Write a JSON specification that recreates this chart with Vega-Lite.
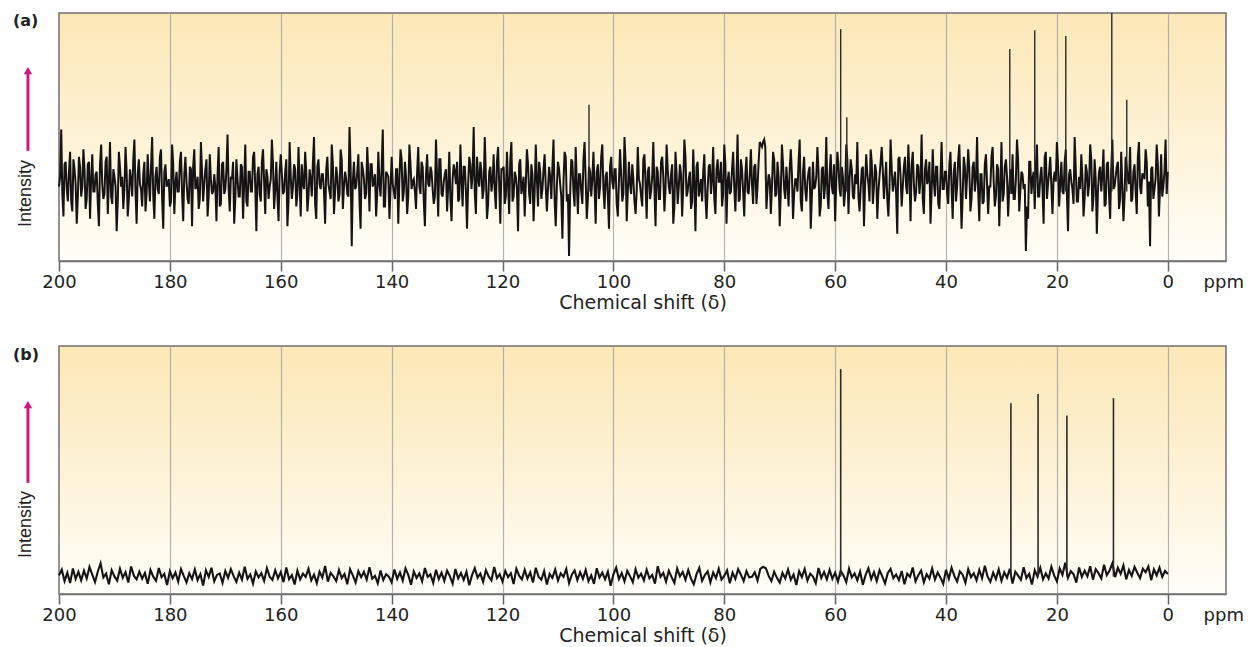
{
"$schema": "https://vega.github.io/schema/vega-lite/v6.json",
"background": "white",
"padding": {"left": 12, "top": 11, "right": 5, "bottom": 2},
"spacing": 32,
"config": {
  "view": {"stroke": "#707070", "strokeWidth": 1.5, "fill": {"gradient": "linear", "x1": 0, "y1": 0, "x2": 0, "y2": 1, "stops": [{"offset": 0, "color": "#fce8b6"}, {"offset": 0.55, "color": "#fdf3d8"}, {"offset": 1, "color": "#fffef9"}]}},
  "axisX": {"labelFont": "DejaVu Sans", "labelFontSize": 18, "labelColor": "#222", "tickColor": "#666", "tickSize": 10, "tickWidth": 1.5, "domainColor": "#707070", "domainWidth": 1.5, "gridColor": "#a0a0a0", "gridWidth": 1.2, "labelPadding": 2, "labelFlush": false, "labelOverlap": false, "titleFont": "DejaVu Sans", "titleFontSize": 19, "titleFontWeight": "normal", "titleColor": "#222", "titlePadding": 2},
  "title": {"font": "DejaVu Sans", "fontSize": 16, "fontWeight": "bold", "color": "#222"}
},
"datasets": {
"a": [
{"ppm":200,"i":30},{"ppm":199.6,"i":53},{"ppm":199.2,"i":18},{"ppm":198.8,"i":40},{"ppm":198.4,"i":24},{"ppm":198,"i":44},{"ppm":197.6,"i":20},{"ppm":197.2,"i":37},{"ppm":196.8,"i":15},{"ppm":196.4,"i":42},
{"ppm":196,"i":26},{"ppm":195.6,"i":45},{"ppm":195.2,"i":21},{"ppm":194.8,"i":39},{"ppm":194.4,"i":17},{"ppm":194,"i":43},{"ppm":193.6,"i":28},{"ppm":193.2,"i":36},{"ppm":192.8,"i":14},{"ppm":192.4,"i":47},
{"ppm":192,"i":25},{"ppm":191.6,"i":40},{"ppm":191.2,"i":19},{"ppm":190.8,"i":48},{"ppm":190.4,"i":23},{"ppm":190,"i":34},{"ppm":189.6,"i":12},{"ppm":189.2,"i":44},{"ppm":188.8,"i":30},{"ppm":188.4,"i":21},
{"ppm":188,"i":46},{"ppm":187.6,"i":18},{"ppm":187.2,"i":37},{"ppm":186.8,"i":26},{"ppm":186.4,"i":49},{"ppm":186,"i":15},{"ppm":185.6,"i":41},{"ppm":185.2,"i":29},{"ppm":184.8,"i":35},{"ppm":184.4,"i":20},
{"ppm":184,"i":43},{"ppm":183.6,"i":24},{"ppm":183.2,"i":50},{"ppm":182.8,"i":17},{"ppm":182.4,"i":38},{"ppm":182,"i":27},{"ppm":181.6,"i":45},{"ppm":181.2,"i":13},{"ppm":180.8,"i":39},{"ppm":180.4,"i":31},
{"ppm":180,"i":22},{"ppm":179.6,"i":47},{"ppm":179.2,"i":19},{"ppm":178.8,"i":36},{"ppm":178.4,"i":28},{"ppm":178,"i":44},{"ppm":177.6,"i":16},{"ppm":177.2,"i":42},{"ppm":176.8,"i":25},{"ppm":176.4,"i":38},
{"ppm":176,"i":14},{"ppm":175.6,"i":45},{"ppm":175.2,"i":30},{"ppm":174.8,"i":21},{"ppm":174.4,"i":48},{"ppm":174,"i":24},{"ppm":173.6,"i":37},{"ppm":173.2,"i":18},{"ppm":172.8,"i":43},{"ppm":172.4,"i":27},
{"ppm":172,"i":35},{"ppm":171.6,"i":16},{"ppm":171.2,"i":46},{"ppm":170.8,"i":23},{"ppm":170.4,"i":40},{"ppm":170,"i":29},{"ppm":169.6,"i":51},{"ppm":169.2,"i":20},{"ppm":168.8,"i":33},{"ppm":168.4,"i":15},
{"ppm":168,"i":41},{"ppm":167.6,"i":26},{"ppm":167.2,"i":39},{"ppm":166.8,"i":17},{"ppm":166.4,"i":47},{"ppm":166,"i":22},{"ppm":165.6,"i":36},{"ppm":165.2,"i":28},{"ppm":164.8,"i":44},{"ppm":164.4,"i":12},
{"ppm":164,"i":38},{"ppm":163.6,"i":24},{"ppm":163.2,"i":45},{"ppm":162.8,"i":19},{"ppm":162.4,"i":34},{"ppm":162,"i":30},{"ppm":161.6,"i":49},{"ppm":161.2,"i":21},{"ppm":160.8,"i":40},{"ppm":160.4,"i":16},
{"ppm":160,"i":43},{"ppm":159.6,"i":27},{"ppm":159.2,"i":36},{"ppm":158.8,"i":14},{"ppm":158.4,"i":48},{"ppm":158,"i":25},{"ppm":157.6,"i":39},{"ppm":157.2,"i":22},{"ppm":156.8,"i":46},{"ppm":156.4,"i":18},
{"ppm":156,"i":31},{"ppm":155.6,"i":44},{"ppm":155.2,"i":20},{"ppm":154.8,"i":37},{"ppm":154.4,"i":26},{"ppm":154,"i":50},{"ppm":153.6,"i":17},{"ppm":153.2,"i":41},{"ppm":152.8,"i":29},{"ppm":152.4,"i":35},
{"ppm":152,"i":15},{"ppm":151.6,"i":42},{"ppm":151.2,"i":28},{"ppm":150.8,"i":47},{"ppm":150.4,"i":19},{"ppm":150,"i":38},{"ppm":149.6,"i":24},{"ppm":149.2,"i":45},{"ppm":148.8,"i":21},{"ppm":148.4,"i":36},
{"ppm":148,"i":27},{"ppm":147.6,"i":54},{"ppm":147.2,"i":6},{"ppm":146.8,"i":40},{"ppm":146.4,"i":30},{"ppm":146,"i":43},{"ppm":145.6,"i":13},{"ppm":145.2,"i":37},{"ppm":144.8,"i":25},{"ppm":144.4,"i":46},
{"ppm":144,"i":20},{"ppm":143.6,"i":39},{"ppm":143.2,"i":32},{"ppm":142.8,"i":18},{"ppm":142.4,"i":44},{"ppm":142,"i":26},{"ppm":141.6,"i":53},{"ppm":141.2,"i":22},{"ppm":140.8,"i":35},{"ppm":140.4,"i":17},
{"ppm":140,"i":42},{"ppm":139.6,"i":28},{"ppm":139.2,"i":37},{"ppm":138.8,"i":15},{"ppm":138.4,"i":45},{"ppm":138,"i":24},{"ppm":137.6,"i":40},{"ppm":137.2,"i":19},{"ppm":136.8,"i":47},{"ppm":136.4,"i":29},
{"ppm":136,"i":33},{"ppm":135.6,"i":21},{"ppm":135.2,"i":46},{"ppm":134.8,"i":27},{"ppm":134.4,"i":38},{"ppm":134,"i":14},{"ppm":133.6,"i":43},{"ppm":133.2,"i":30},{"ppm":132.8,"i":36},{"ppm":132.4,"i":23},
{"ppm":132,"i":49},{"ppm":131.6,"i":18},{"ppm":131.2,"i":41},{"ppm":130.8,"i":26},{"ppm":130.4,"i":35},{"ppm":130,"i":20},{"ppm":129.6,"i":44},{"ppm":129.2,"i":16},{"ppm":128.8,"i":39},{"ppm":128.4,"i":31},
{"ppm":128,"i":24},{"ppm":127.6,"i":47},{"ppm":127.2,"i":22},{"ppm":126.8,"i":38},{"ppm":126.4,"i":13},{"ppm":126,"i":42},{"ppm":125.6,"i":29},{"ppm":125.2,"i":54},{"ppm":124.8,"i":19},{"ppm":124.4,"i":34},
{"ppm":124,"i":40},{"ppm":123.6,"i":25},{"ppm":123.2,"i":50},{"ppm":122.8,"i":17},{"ppm":122.4,"i":36},{"ppm":122,"i":28},{"ppm":121.6,"i":43},{"ppm":121.2,"i":21},{"ppm":120.8,"i":46},{"ppm":120.4,"i":15},
{"ppm":120,"i":37},{"ppm":119.6,"i":23},{"ppm":119.2,"i":44},{"ppm":118.8,"i":19},{"ppm":118.4,"i":48},{"ppm":118,"i":26},{"ppm":117.6,"i":34},{"ppm":117.2,"i":12},{"ppm":116.8,"i":41},{"ppm":116.4,"i":30},
{"ppm":116,"i":18},{"ppm":115.6,"i":45},{"ppm":115.2,"i":27},{"ppm":114.8,"i":39},{"ppm":114.4,"i":16},{"ppm":114,"i":47},{"ppm":113.6,"i":22},{"ppm":113.2,"i":36},{"ppm":112.8,"i":29},{"ppm":112.4,"i":43},
{"ppm":112,"i":20},{"ppm":111.6,"i":38},{"ppm":111.2,"i":25},{"ppm":110.8,"i":49},{"ppm":110.4,"i":14},{"ppm":110,"i":40},{"ppm":109.6,"i":31},{"ppm":109.2,"i":9},{"ppm":108.8,"i":44},{"ppm":108.4,"i":24},
{"ppm":108,"i":2},{"ppm":107.6,"i":41},{"ppm":107.2,"i":28},{"ppm":106.8,"i":46},{"ppm":106.4,"i":19},{"ppm":106,"i":35},{"ppm":105.6,"i":23},{"ppm":105.2,"i":48},{"ppm":104.8,"i":17},{"ppm":104.4,"i":38},
{"ppm":104,"i":26},{"ppm":103.6,"i":44},{"ppm":103.2,"i":15},{"ppm":102.8,"i":39},{"ppm":102.4,"i":30},{"ppm":102,"i":47},{"ppm":101.6,"i":21},{"ppm":101.2,"i":36},{"ppm":100.8,"i":13},{"ppm":100.4,"i":42},
{"ppm":100,"i":29},{"ppm":99.6,"i":37},{"ppm":99.2,"i":18},{"ppm":98.8,"i":45},{"ppm":98.4,"i":24},{"ppm":98,"i":50},{"ppm":97.6,"i":16},{"ppm":97.2,"i":40},{"ppm":96.8,"i":27},{"ppm":96.4,"i":33},
{"ppm":96,"i":19},{"ppm":95.6,"i":46},{"ppm":95.2,"i":31},{"ppm":94.8,"i":22},{"ppm":94.4,"i":43},{"ppm":94,"i":17},{"ppm":93.6,"i":38},{"ppm":93.2,"i":28},{"ppm":92.8,"i":48},{"ppm":92.4,"i":14},
{"ppm":92,"i":36},{"ppm":91.6,"i":25},{"ppm":91.2,"i":42},{"ppm":90.8,"i":20},{"ppm":90.4,"i":47},{"ppm":90,"i":30},{"ppm":89.6,"i":35},{"ppm":89.2,"i":15},{"ppm":88.8,"i":44},{"ppm":88.4,"i":23},
{"ppm":88,"i":39},{"ppm":87.6,"i":18},{"ppm":87.2,"i":49},{"ppm":86.8,"i":26},{"ppm":86.4,"i":33},{"ppm":86,"i":21},{"ppm":85.6,"i":45},{"ppm":85.2,"i":12},{"ppm":84.8,"i":40},{"ppm":84.4,"i":29},
{"ppm":84,"i":24},{"ppm":83.6,"i":43},{"ppm":83.2,"i":17},{"ppm":82.8,"i":38},{"ppm":82.4,"i":27},{"ppm":82,"i":46},{"ppm":81.6,"i":19},{"ppm":81.2,"i":41},{"ppm":80.8,"i":32},{"ppm":80.4,"i":22},
{"ppm":80,"i":47},{"ppm":79.6,"i":15},{"ppm":79.2,"i":36},{"ppm":78.8,"i":28},{"ppm":78.4,"i":44},{"ppm":78,"i":20},{"ppm":77.6,"i":51},{"ppm":77.2,"i":25},{"ppm":76.8,"i":37},{"ppm":76.4,"i":18},
{"ppm":76,"i":42},{"ppm":75.6,"i":27},{"ppm":75.2,"i":45},{"ppm":74.8,"i":23},{"ppm":74.4,"i":39},{"ppm":74,"i":30},{"ppm":73.6,"i":48},{"ppm":73.2,"i":46},{"ppm":72.8,"i":49},{"ppm":72.4,"i":21},
{"ppm":72,"i":35},{"ppm":71.6,"i":19},{"ppm":71.2,"i":44},{"ppm":70.8,"i":26},{"ppm":70.4,"i":40},{"ppm":70,"i":14},{"ppm":69.6,"i":47},{"ppm":69.2,"i":29},{"ppm":68.8,"i":38},{"ppm":68.4,"i":22},
{"ppm":68,"i":45},{"ppm":67.6,"i":17},{"ppm":67.2,"i":33},{"ppm":66.8,"i":28},{"ppm":66.4,"i":49},{"ppm":66,"i":20},{"ppm":65.6,"i":42},{"ppm":65.2,"i":24},{"ppm":64.8,"i":36},{"ppm":64.4,"i":13},
{"ppm":64,"i":40},{"ppm":63.6,"i":30},{"ppm":63.2,"i":46},{"ppm":62.8,"i":18},{"ppm":62.4,"i":37},{"ppm":62,"i":25},{"ppm":61.6,"i":50},{"ppm":61.2,"i":21},{"ppm":60.8,"i":43},{"ppm":60.4,"i":27},
{"ppm":60,"i":16},{"ppm":59.6,"i":44},{"ppm":59.2,"i":29},{"ppm":58.8,"i":38},{"ppm":58.4,"i":22},{"ppm":58,"i":47},{"ppm":57.6,"i":19},{"ppm":57.2,"i":41},{"ppm":56.8,"i":26},{"ppm":56.4,"i":35},
{"ppm":56,"i":48},{"ppm":55.6,"i":20},{"ppm":55.2,"i":37},{"ppm":54.8,"i":14},{"ppm":54.4,"i":43},{"ppm":54,"i":31},{"ppm":53.6,"i":45},{"ppm":53.2,"i":23},{"ppm":52.8,"i":39},{"ppm":52.4,"i":17},
{"ppm":52,"i":34},{"ppm":51.6,"i":46},{"ppm":51.2,"i":25},{"ppm":50.8,"i":40},{"ppm":50.4,"i":18},{"ppm":50,"i":49},{"ppm":49.6,"i":28},{"ppm":49.2,"i":36},{"ppm":48.8,"i":11},{"ppm":48.4,"i":42},
{"ppm":48,"i":22},{"ppm":47.6,"i":38},{"ppm":47.2,"i":30},{"ppm":46.8,"i":47},{"ppm":46.4,"i":16},{"ppm":46,"i":44},{"ppm":45.6,"i":24},{"ppm":45.2,"i":39},{"ppm":44.8,"i":27},{"ppm":44.4,"i":51},
{"ppm":44,"i":19},{"ppm":43.6,"i":41},{"ppm":43.2,"i":33},{"ppm":42.8,"i":15},{"ppm":42.4,"i":45},{"ppm":42,"i":26},{"ppm":41.6,"i":38},{"ppm":41.2,"i":21},{"ppm":40.8,"i":48},{"ppm":40.4,"i":29},
{"ppm":40,"i":36},{"ppm":39.6,"i":23},{"ppm":39.2,"i":44},{"ppm":38.8,"i":17},{"ppm":38.4,"i":40},{"ppm":38,"i":30},{"ppm":37.6,"i":47},{"ppm":37.2,"i":13},{"ppm":36.8,"i":42},{"ppm":36.4,"i":25},
{"ppm":36,"i":45},{"ppm":35.6,"i":20},{"ppm":35.2,"i":38},{"ppm":34.8,"i":28},{"ppm":34.4,"i":50},{"ppm":34,"i":16},{"ppm":33.6,"i":35},{"ppm":33.2,"i":24},{"ppm":32.8,"i":43},{"ppm":32.4,"i":19},
{"ppm":32,"i":30},{"ppm":31.6,"i":46},{"ppm":31.2,"i":22},{"ppm":30.8,"i":39},{"ppm":30.4,"i":14},{"ppm":30,"i":48},{"ppm":29.6,"i":27},{"ppm":29.2,"i":41},{"ppm":28.8,"i":18},{"ppm":28.4,"i":37},
{"ppm":28,"i":43},{"ppm":27.6,"i":25},{"ppm":27.2,"i":49},{"ppm":26.8,"i":20},{"ppm":26.4,"i":36},{"ppm":26,"i":29},{"ppm":25.6,"i":4},{"ppm":25.2,"i":17},{"ppm":24.8,"i":40},{"ppm":24.4,"i":33},
{"ppm":24,"i":21},{"ppm":23.6,"i":47},{"ppm":23.2,"i":26},{"ppm":22.8,"i":38},{"ppm":22.4,"i":15},{"ppm":22,"i":44},{"ppm":21.6,"i":31},{"ppm":21.2,"i":42},{"ppm":20.8,"i":19},{"ppm":20.4,"i":36},
{"ppm":20,"i":48},{"ppm":19.6,"i":22},{"ppm":19.2,"i":40},{"ppm":18.8,"i":27},{"ppm":18.4,"i":45},{"ppm":18,"i":12},{"ppm":17.6,"i":37},{"ppm":17.2,"i":29},{"ppm":16.8,"i":50},{"ppm":16.4,"i":24},
{"ppm":16,"i":34},{"ppm":15.6,"i":43},{"ppm":15.2,"i":18},{"ppm":14.8,"i":39},{"ppm":14.4,"i":26},{"ppm":14,"i":47},{"ppm":13.6,"i":20},{"ppm":13.2,"i":41},{"ppm":12.8,"i":11},{"ppm":12.4,"i":36},
{"ppm":12,"i":28},{"ppm":11.6,"i":45},{"ppm":11.2,"i":23},{"ppm":10.8,"i":40},{"ppm":10.4,"i":17},{"ppm":10,"i":49},{"ppm":9.6,"i":30},{"ppm":9.2,"i":38},{"ppm":8.8,"i":21},{"ppm":8.4,"i":44},
{"ppm":8,"i":16},{"ppm":7.6,"i":42},{"ppm":7.2,"i":33},{"ppm":6.8,"i":46},{"ppm":6.4,"i":25},{"ppm":6,"i":39},{"ppm":5.6,"i":19},{"ppm":5.2,"i":48},{"ppm":4.8,"i":27},{"ppm":4.4,"i":35},
{"ppm":4,"i":45},{"ppm":3.6,"i":22},{"ppm":3.2,"i":6},{"ppm":2.8,"i":38},{"ppm":2.4,"i":29},{"ppm":2,"i":47},{"ppm":1.6,"i":18},{"ppm":1.2,"i":43},{"ppm":0.8,"i":30},{"ppm":0.4,"i":49},
{"ppm":0,"i":36},
{"ppm":199.8,"i":34},{"ppm":199.4,"i":27},{"ppm":199,"i":39},{"ppm":198.6,"i":29},{"ppm":198.2,"i":36},{"ppm":197.8,"i":24},{"ppm":197.4,"i":41},{"ppm":197,"i":31},{"ppm":196.6,"i":26},{"ppm":196.2,"i":38},
{"ppm":195.8,"i":30},{"ppm":195.4,"i":37},{"ppm":195,"i":25},{"ppm":194.6,"i":40},{"ppm":194.2,"i":33},{"ppm":193.8,"i":28},{"ppm":193.4,"i":35},{"ppm":193,"i":23},{"ppm":192.6,"i":39},{"ppm":192.2,"i":31},
{"ppm":191.8,"i":27},{"ppm":191.4,"i":42},{"ppm":191,"i":32},{"ppm":190.6,"i":26},{"ppm":190.2,"i":37},{"ppm":189.8,"i":30},{"ppm":189.4,"i":24},{"ppm":189,"i":38},{"ppm":188.6,"i":34},{"ppm":188.2,"i":29},
{"ppm":187.8,"i":36},{"ppm":187.4,"i":25},{"ppm":187,"i":33},{"ppm":186.6,"i":41},{"ppm":186.2,"i":28},{"ppm":185.8,"i":35},{"ppm":185.4,"i":31},{"ppm":185,"i":22},{"ppm":184.6,"i":40},{"ppm":184.2,"i":27},
{"ppm":183.8,"i":32},{"ppm":183.4,"i":38},{"ppm":183,"i":26},{"ppm":182.6,"i":34},{"ppm":182.2,"i":29},{"ppm":181.8,"i":42},{"ppm":181.4,"i":25},{"ppm":181,"i":36},{"ppm":180.6,"i":30},{"ppm":180.2,"i":33},
{"ppm":179.8,"i":24},{"ppm":179.4,"i":39},{"ppm":179,"i":31},{"ppm":178.6,"i":28},{"ppm":178.2,"i":40},{"ppm":177.8,"i":27},{"ppm":177.4,"i":35},{"ppm":177,"i":32},{"ppm":176.6,"i":23},{"ppm":176.2,"i":37},
{"ppm":175.8,"i":38},{"ppm":175.4,"i":29},{"ppm":175,"i":34},{"ppm":174.6,"i":25},{"ppm":174.2,"i":36},{"ppm":173.8,"i":31},{"ppm":173.4,"i":41},{"ppm":173,"i":26},{"ppm":172.6,"i":33},{"ppm":172.2,"i":28},
{"ppm":171.8,"i":30},{"ppm":171.4,"i":35},{"ppm":171,"i":22},{"ppm":170.6,"i":39},{"ppm":170.2,"i":27},{"ppm":169.8,"i":37},{"ppm":169.4,"i":29},{"ppm":169,"i":34},{"ppm":168.6,"i":40},{"ppm":168.2,"i":25},
{"ppm":167.8,"i":33},{"ppm":167.4,"i":26},{"ppm":167,"i":38},{"ppm":166.6,"i":31},{"ppm":166.2,"i":24},{"ppm":165.8,"i":36},{"ppm":165.4,"i":28},{"ppm":165,"i":42},{"ppm":164.6,"i":30},{"ppm":164.2,"i":35},
{"ppm":163.8,"i":27},{"ppm":163.4,"i":40},{"ppm":163,"i":32},{"ppm":162.6,"i":37},{"ppm":162.2,"i":25},{"ppm":161.8,"i":33},{"ppm":161.4,"i":39},{"ppm":161,"i":29},{"ppm":160.6,"i":26},{"ppm":160.2,"i":36},
{"ppm":159.8,"i":35},{"ppm":159.4,"i":28},{"ppm":159,"i":41},{"ppm":158.6,"i":24},{"ppm":158.2,"i":34},{"ppm":157.8,"i":30},{"ppm":157.4,"i":37},{"ppm":157,"i":27},{"ppm":156.6,"i":32},{"ppm":156.2,"i":39},
{"ppm":155.8,"i":29},{"ppm":155.4,"i":36},{"ppm":155,"i":26},{"ppm":154.6,"i":33},{"ppm":154.2,"i":40},{"ppm":153.8,"i":23},{"ppm":153.4,"i":38},{"ppm":153,"i":31},{"ppm":152.6,"i":35},{"ppm":152.2,"i":28},
{"ppm":151.8,"i":37},{"ppm":151.4,"i":31},{"ppm":151,"i":25},{"ppm":150.6,"i":39},{"ppm":150.2,"i":28},{"ppm":149.8,"i":34},{"ppm":149.4,"i":27},{"ppm":149,"i":41},{"ppm":148.6,"i":30},{"ppm":148.2,"i":33},
{"ppm":147.8,"i":26},{"ppm":147.4,"i":38},{"ppm":147,"i":32},{"ppm":146.6,"i":29},{"ppm":146.2,"i":36},{"ppm":145.8,"i":24},{"ppm":145.4,"i":40},{"ppm":145,"i":33},{"ppm":144.6,"i":27},{"ppm":144.2,"i":35},
{"ppm":143.8,"i":39},{"ppm":143.4,"i":30},{"ppm":143,"i":35},{"ppm":142.6,"i":27},{"ppm":142.2,"i":31},{"ppm":141.8,"i":38},{"ppm":141.4,"i":22},{"ppm":141,"i":36},{"ppm":140.6,"i":34},{"ppm":140.2,"i":29},
{"ppm":139.8,"i":31},{"ppm":139.4,"i":25},{"ppm":139,"i":37},{"ppm":138.6,"i":33},{"ppm":138.2,"i":41},{"ppm":137.8,"i":28},{"ppm":137.4,"i":34},{"ppm":137,"i":26},{"ppm":136.6,"i":39},{"ppm":136.2,"i":32},
{"ppm":135.8,"i":28},{"ppm":135.4,"i":36},{"ppm":135,"i":30},{"ppm":134.6,"i":40},{"ppm":134.2,"i":24},{"ppm":133.8,"i":35},{"ppm":133.4,"i":31},{"ppm":133,"i":38},{"ppm":132.6,"i":29},{"ppm":132.2,"i":26},
{"ppm":131.8,"i":34},{"ppm":131.4,"i":41},{"ppm":131,"i":27},{"ppm":130.6,"i":32},{"ppm":130.2,"i":37},{"ppm":129.8,"i":30},{"ppm":129.4,"i":25},{"ppm":129,"i":33},{"ppm":128.6,"i":36},{"ppm":128.2,"i":40},
{"ppm":127.8,"i":25},{"ppm":127.4,"i":33},{"ppm":127,"i":38},{"ppm":126.6,"i":28},{"ppm":126.2,"i":31},{"ppm":125.8,"i":39},{"ppm":125.4,"i":35},{"ppm":125,"i":27},{"ppm":124.6,"i":42},{"ppm":124.2,"i":30},
{"ppm":123.8,"i":36},{"ppm":123.4,"i":29},{"ppm":123,"i":34},{"ppm":122.6,"i":23},{"ppm":122.2,"i":38},{"ppm":121.8,"i":32},{"ppm":121.4,"i":28},{"ppm":121,"i":40},{"ppm":120.6,"i":31},{"ppm":120.2,"i":37},
{"ppm":119.8,"i":38},{"ppm":119.4,"i":26},{"ppm":119,"i":31},{"ppm":118.6,"i":41},{"ppm":118.2,"i":24},{"ppm":117.8,"i":36},{"ppm":117.4,"i":29},{"ppm":117,"i":39},{"ppm":116.6,"i":27},{"ppm":116.2,"i":34},
{"ppm":115.8,"i":31},{"ppm":115.4,"i":39},{"ppm":115,"i":23},{"ppm":114.6,"i":35},{"ppm":114.2,"i":28},{"ppm":113.8,"i":33},{"ppm":113.4,"i":40},{"ppm":113,"i":25},{"ppm":112.6,"i":37},{"ppm":112.2,"i":30},
{"ppm":111.8,"i":29},{"ppm":111.4,"i":34},{"ppm":111,"i":38},{"ppm":110.6,"i":24},{"ppm":110.2,"i":30},{"ppm":109.8,"i":37},{"ppm":109.4,"i":26},{"ppm":109,"i":32},{"ppm":108.6,"i":42},{"ppm":108.2,"i":27},
{"ppm":107.8,"i":27},{"ppm":107.4,"i":40},{"ppm":107,"i":22},{"ppm":106.6,"i":31},{"ppm":106.2,"i":35},{"ppm":105.8,"i":28},{"ppm":105.4,"i":41},{"ppm":105,"i":33},{"ppm":104.6,"i":25},{"ppm":104.2,"i":36},
{"ppm":103.8,"i":33},{"ppm":103.4,"i":30},{"ppm":103,"i":36},{"ppm":102.6,"i":25},{"ppm":102.2,"i":42},{"ppm":101.8,"i":29},{"ppm":101.4,"i":34},{"ppm":101,"i":26},{"ppm":100.6,"i":38},{"ppm":100.2,"i":32},
{"ppm":99.8,"i":37},{"ppm":99.4,"i":23},{"ppm":99,"i":32},{"ppm":98.6,"i":35},{"ppm":98.2,"i":27},{"ppm":97.8,"i":40},{"ppm":97.4,"i":28},{"ppm":97,"i":31},{"ppm":96.6,"i":39},{"ppm":96.2,"i":24},
{"ppm":95.8,"i":28},{"ppm":95.4,"i":33},{"ppm":95,"i":26},{"ppm":94.6,"i":41},{"ppm":94.2,"i":31},{"ppm":93.8,"i":36},{"ppm":93.4,"i":25},{"ppm":93,"i":34},{"ppm":92.6,"i":29},{"ppm":92.2,"i":38},
{"ppm":91.8,"i":25},{"ppm":91.4,"i":40},{"ppm":91,"i":34},{"ppm":90.6,"i":29},{"ppm":90.2,"i":37},{"ppm":89.8,"i":27},{"ppm":89.4,"i":39},{"ppm":89,"i":22},{"ppm":88.6,"i":35},{"ppm":88.2,"i":30},
{"ppm":87.8,"i":35},{"ppm":87.4,"i":30},{"ppm":87,"i":42},{"ppm":86.6,"i":28},{"ppm":86.2,"i":36},{"ppm":85.8,"i":24},{"ppm":85.4,"i":31},{"ppm":85,"i":38},{"ppm":84.6,"i":26},{"ppm":84.2,"i":33},
{"ppm":83.8,"i":36},{"ppm":83.4,"i":26},{"ppm":83,"i":29},{"ppm":82.6,"i":39},{"ppm":82.2,"i":33},{"ppm":81.8,"i":25},{"ppm":81.4,"i":37},{"ppm":81,"i":32},{"ppm":80.6,"i":40},{"ppm":80.2,"i":27},
{"ppm":79.8,"i":39},{"ppm":79.4,"i":32},{"ppm":79,"i":27},{"ppm":78.6,"i":37},{"ppm":78.2,"i":30},{"ppm":77.8,"i":34},{"ppm":77.4,"i":24},{"ppm":77,"i":41},{"ppm":76.6,"i":28},{"ppm":76.2,"i":35},
{"ppm":75.8,"i":28},{"ppm":75.4,"i":35},{"ppm":75,"i":31},{"ppm":74.6,"i":38},{"ppm":74.2,"i":23},{"ppm":73.8,"i":40},{"ppm":73.4,"i":47},{"ppm":73,"i":48},{"ppm":72.6,"i":46},{"ppm":72.2,"i":29},
{"ppm":71.8,"i":33},{"ppm":71.4,"i":30},{"ppm":71,"i":41},{"ppm":70.6,"i":27},{"ppm":70.2,"i":34},{"ppm":69.8,"i":28},{"ppm":69.4,"i":39},{"ppm":69,"i":25},{"ppm":68.6,"i":31},{"ppm":68.2,"i":37},
{"ppm":67.8,"i":35},{"ppm":67.4,"i":27},{"ppm":67,"i":33},{"ppm":66.6,"i":40},{"ppm":66.2,"i":24},{"ppm":65.8,"i":36},{"ppm":65.4,"i":29},{"ppm":65,"i":32},{"ppm":64.6,"i":38},{"ppm":64.2,"i":26},
{"ppm":63.8,"i":29},{"ppm":63.4,"i":34},{"ppm":63,"i":36},{"ppm":62.6,"i":22},{"ppm":62.2,"i":38},{"ppm":61.8,"i":31},{"ppm":61.4,"i":27},{"ppm":61,"i":35},{"ppm":60.6,"i":30},{"ppm":60.2,"i":39},
{"ppm":59.8,"i":32},{"ppm":59.4,"i":39},{"ppm":59,"i":26},{"ppm":58.6,"i":34},{"ppm":58.2,"i":28},{"ppm":57.8,"i":41},{"ppm":57.4,"i":33},{"ppm":57,"i":37},{"ppm":56.6,"i":25},{"ppm":56.2,"i":31},
{"ppm":55.8,"i":26},{"ppm":55.4,"i":29},{"ppm":55,"i":38},{"ppm":54.6,"i":31},{"ppm":54.2,"i":35},{"ppm":53.8,"i":24},{"ppm":53.4,"i":40},{"ppm":53,"i":30},{"ppm":52.6,"i":36},{"ppm":52.2,"i":28},
{"ppm":51.8,"i":40},{"ppm":51.4,"i":36},{"ppm":51,"i":33},{"ppm":50.6,"i":25},{"ppm":50.2,"i":30},{"ppm":49.8,"i":37},{"ppm":49.4,"i":32},{"ppm":49,"i":27},{"ppm":48.6,"i":41},{"ppm":48.2,"i":34},
{"ppm":47.8,"i":30},{"ppm":47.4,"i":42},{"ppm":47,"i":27},{"ppm":46.6,"i":35},{"ppm":46.2,"i":39},{"ppm":45.8,"i":31},{"ppm":45.4,"i":28},{"ppm":45,"i":38},{"ppm":44.6,"i":33},{"ppm":44.2,"i":25},
{"ppm":43.8,"i":37},{"ppm":43.4,"i":31},{"ppm":43,"i":40},{"ppm":42.6,"i":28},{"ppm":42.2,"i":32},{"ppm":41.8,"i":38},{"ppm":41.4,"i":23},{"ppm":41,"i":34},{"ppm":40.6,"i":29},{"ppm":40.2,"i":36},
{"ppm":39.8,"i":27},{"ppm":39.4,"i":39},{"ppm":39,"i":29},{"ppm":38.6,"i":36},{"ppm":38.2,"i":24},{"ppm":37.8,"i":41},{"ppm":37.4,"i":31},{"ppm":37,"i":26},{"ppm":36.6,"i":38},{"ppm":36.2,"i":34},
{"ppm":35.8,"i":37},{"ppm":35.4,"i":25},{"ppm":35,"i":40},{"ppm":34.6,"i":33},{"ppm":34.2,"i":28},{"ppm":33.8,"i":35},{"ppm":33.4,"i":23},{"ppm":33,"i":39},{"ppm":32.6,"i":31},{"ppm":32.2,"i":30},
{"ppm":31.8,"i":42},{"ppm":31.4,"i":32},{"ppm":31,"i":26},{"ppm":30.6,"i":37},{"ppm":30.2,"i":30},{"ppm":29.8,"i":24},{"ppm":29.4,"i":38},{"ppm":29,"i":34},{"ppm":28.6,"i":29},{"ppm":28.2,"i":27},
{"ppm":27.8,"i":25},{"ppm":27.4,"i":33},{"ppm":27,"i":41},{"ppm":26.6,"i":28},{"ppm":26.2,"i":35},{"ppm":25.8,"i":31},{"ppm":25.4,"i":22},{"ppm":25,"i":40},{"ppm":24.6,"i":27},{"ppm":24.2,"i":36},
{"ppm":23.8,"i":38},{"ppm":23.4,"i":26},{"ppm":23,"i":34},{"ppm":22.6,"i":29},{"ppm":22.2,"i":42},{"ppm":21.8,"i":25},{"ppm":21.4,"i":36},{"ppm":21,"i":30},{"ppm":20.6,"i":33},{"ppm":20.2,"i":32},
{"ppm":19.8,"i":39},{"ppm":19.4,"i":31},{"ppm":19,"i":28},{"ppm":18.6,"i":40},{"ppm":18.2,"i":27},{"ppm":17.8,"i":35},{"ppm":17.4,"i":32},{"ppm":17,"i":23},{"ppm":16.6,"i":37},{"ppm":16.2,"i":24},
{"ppm":15.8,"i":29},{"ppm":15.4,"i":34},{"ppm":15,"i":25},{"ppm":14.6,"i":36},{"ppm":14.2,"i":31},{"ppm":13.8,"i":41},{"ppm":13.4,"i":26},{"ppm":13,"i":33},{"ppm":12.6,"i":28},{"ppm":12.2,"i":38},
{"ppm":11.8,"i":35},{"ppm":11.4,"i":22},{"ppm":11,"i":39},{"ppm":10.6,"i":27},{"ppm":10.2,"i":37},{"ppm":9.8,"i":29},{"ppm":9.4,"i":34},{"ppm":9,"i":40},{"ppm":8.6,"i":25},{"ppm":8.2,"i":30},
{"ppm":7.8,"i":26},{"ppm":7.4,"i":38},{"ppm":7,"i":31},{"ppm":6.6,"i":24},{"ppm":6.2,"i":36},{"ppm":5.8,"i":28},{"ppm":5.4,"i":42},{"ppm":5,"i":30},{"ppm":4.6,"i":35},{"ppm":4.2,"i":33},
{"ppm":3.8,"i":40},{"ppm":3.4,"i":32},{"ppm":3,"i":37},{"ppm":2.6,"i":25},{"ppm":2.2,"i":33},{"ppm":1.8,"i":39},{"ppm":1.4,"i":29},{"ppm":1,"i":26},{"ppm":0.6,"i":36},{"ppm":0.2,"i":27}
],
"b": [
{"ppm":200,"i":7.5},{"ppm":199.5,"i":9.8},{"ppm":199,"i":5.2},{"ppm":198.5,"i":8.6},{"ppm":198,"i":4.4},{"ppm":197.5,"i":10.3},{"ppm":197,"i":6.1},{"ppm":196.5,"i":8.9},{"ppm":196,"i":5.5},{"ppm":195.5,"i":9.4},
{"ppm":195,"i":6.3},{"ppm":194.5,"i":10.9},{"ppm":194,"i":7.8},{"ppm":193.5,"i":4.8},{"ppm":193,"i":9.1},{"ppm":192.5,"i":12.4},{"ppm":192,"i":6.7},{"ppm":191.5,"i":8.2},{"ppm":191,"i":3.9},{"ppm":190.5,"i":9.6},
{"ppm":190,"i":7.1},{"ppm":189.5,"i":5.4},{"ppm":189,"i":10.2},{"ppm":188.5,"i":6.6},{"ppm":188,"i":8.8},{"ppm":187.5,"i":4.6},{"ppm":187,"i":11.1},{"ppm":186.5,"i":7.4},{"ppm":186,"i":5.9},{"ppm":185.5,"i":9.0},
{"ppm":185,"i":6.2},{"ppm":184.5,"i":8.5},{"ppm":184,"i":4.1},{"ppm":183.5,"i":9.7},{"ppm":183,"i":7.0},{"ppm":182.5,"i":5.3},{"ppm":182,"i":10.5},{"ppm":181.5,"i":6.8},{"ppm":181,"i":8.1},{"ppm":180.5,"i":3.6},
{"ppm":180,"i":9.2},{"ppm":179.5,"i":6.4},{"ppm":179,"i":8.7},{"ppm":178.5,"i":5.0},{"ppm":178,"i":10.1},{"ppm":177.5,"i":7.3},{"ppm":177,"i":4.7},{"ppm":176.5,"i":8.4},{"ppm":176,"i":6.0},{"ppm":175.5,"i":9.9},
{"ppm":175,"i":5.6},{"ppm":174.5,"i":8.0},{"ppm":174,"i":3.4},{"ppm":173.5,"i":9.5},{"ppm":173,"i":6.9},{"ppm":172.5,"i":10.6},{"ppm":172,"i":5.1},{"ppm":171.5,"i":7.7},{"ppm":171,"i":8.3},{"ppm":170.5,"i":4.5},
{"ppm":170,"i":9.3},{"ppm":169.5,"i":6.5},{"ppm":169,"i":10.0},{"ppm":168.5,"i":7.2},{"ppm":168,"i":4.9},{"ppm":167.5,"i":8.6},{"ppm":167,"i":5.8},{"ppm":166.5,"i":11.0},{"ppm":166,"i":6.1},{"ppm":165.5,"i":7.9},
{"ppm":165,"i":4.2},{"ppm":164.5,"i":9.1},{"ppm":164,"i":6.7},{"ppm":163.5,"i":8.4},{"ppm":163,"i":5.3},{"ppm":162.5,"i":10.4},{"ppm":162,"i":7.0},{"ppm":161.5,"i":5.7},{"ppm":161,"i":9.6},{"ppm":160.5,"i":6.3},
{"ppm":160,"i":8.8},{"ppm":159.5,"i":4.8},{"ppm":159,"i":10.7},{"ppm":158.5,"i":6.0},{"ppm":158,"i":7.6},{"ppm":157.5,"i":3.8},{"ppm":157,"i":9.4},{"ppm":156.5,"i":5.9},{"ppm":156,"i":8.2},{"ppm":155.5,"i":6.9},
{"ppm":155,"i":10.2},{"ppm":154.5,"i":5.5},{"ppm":154,"i":7.8},{"ppm":153.5,"i":4.4},{"ppm":153,"i":9.0},{"ppm":152.5,"i":6.6},{"ppm":152,"i":11.3},{"ppm":151.5,"i":5.0},{"ppm":151,"i":8.5},{"ppm":150.5,"i":7.1},
{"ppm":150,"i":5.2},{"ppm":149.5,"i":9.7},{"ppm":149,"i":6.4},{"ppm":148.5,"i":8.1},{"ppm":148,"i":3.9},{"ppm":147.5,"i":10.0},{"ppm":147,"i":7.5},{"ppm":146.5,"i":4.6},{"ppm":146,"i":9.2},{"ppm":145.5,"i":6.8},
{"ppm":145,"i":8.9},{"ppm":144.5,"i":5.8},{"ppm":144,"i":10.8},{"ppm":143.5,"i":6.2},{"ppm":143,"i":7.3},{"ppm":142.5,"i":4.3},{"ppm":142,"i":9.5},{"ppm":141.5,"i":5.6},{"ppm":141,"i":8.0},{"ppm":140.5,"i":7.0},
{"ppm":140,"i":4.7},{"ppm":139.5,"i":9.9},{"ppm":139,"i":6.1},{"ppm":138.5,"i":8.7},{"ppm":138,"i":5.4},{"ppm":137.5,"i":10.3},{"ppm":137,"i":7.7},{"ppm":136.5,"i":3.7},{"ppm":136,"i":9.1},{"ppm":135.5,"i":6.5},
{"ppm":135,"i":8.3},{"ppm":134.5,"i":5.1},{"ppm":134,"i":10.5},{"ppm":133.5,"i":6.9},{"ppm":133,"i":7.9},{"ppm":132.5,"i":4.5},{"ppm":132,"i":9.8},{"ppm":131.5,"i":6.0},{"ppm":131,"i":8.6},{"ppm":130.5,"i":5.3},
{"ppm":130,"i":9.4},{"ppm":129.5,"i":7.2},{"ppm":129,"i":4.2},{"ppm":128.5,"i":10.1},{"ppm":128,"i":6.3},{"ppm":127.5,"i":8.5},{"ppm":127,"i":5.7},{"ppm":126.5,"i":9.0},{"ppm":126,"i":3.5},{"ppm":125.5,"i":7.6},
{"ppm":125,"i":10.4},{"ppm":124.5,"i":6.6},{"ppm":124,"i":8.2},{"ppm":123.5,"i":4.9},{"ppm":123,"i":9.6},{"ppm":122.5,"i":7.1},{"ppm":122,"i":5.5},{"ppm":121.5,"i":10.9},{"ppm":121,"i":6.4},{"ppm":120.5,"i":8.0},
{"ppm":120,"i":5.0},{"ppm":119.5,"i":9.3},{"ppm":119,"i":6.8},{"ppm":118.5,"i":8.4},{"ppm":118,"i":4.0},{"ppm":117.5,"i":10.2},{"ppm":117,"i":7.4},{"ppm":116.5,"i":5.9},{"ppm":116,"i":9.7},{"ppm":115.5,"i":6.2},
{"ppm":115,"i":8.7},{"ppm":114.5,"i":4.6},{"ppm":114,"i":10.6},{"ppm":113.5,"i":7.0},{"ppm":113,"i":5.8},{"ppm":112.5,"i":9.2},{"ppm":112,"i":3.8},{"ppm":111.5,"i":8.1},{"ppm":111,"i":6.5},{"ppm":110.5,"i":9.9},
{"ppm":110,"i":5.4},{"ppm":109.5,"i":8.3},{"ppm":109,"i":6.9},{"ppm":108.5,"i":10.1},{"ppm":108,"i":4.4},{"ppm":107.5,"i":7.8},{"ppm":107,"i":9.5},{"ppm":106.5,"i":5.6},{"ppm":106,"i":8.8},{"ppm":105.5,"i":6.1},
{"ppm":105,"i":9.7},{"ppm":104.5,"i":5.2},{"ppm":104,"i":7.5},{"ppm":103.5,"i":4.1},{"ppm":103,"i":10.4},{"ppm":102.5,"i":6.7},{"ppm":102,"i":8.6},{"ppm":101.5,"i":5.9},{"ppm":101,"i":9.0},{"ppm":100.5,"i":3.3},
{"ppm":100,"i":7.9},{"ppm":99.5,"i":10.6},{"ppm":99,"i":6.0},{"ppm":98.5,"i":8.4},{"ppm":98,"i":5.1},{"ppm":97.5,"i":9.3},{"ppm":97,"i":7.2},{"ppm":96.5,"i":4.8},{"ppm":96,"i":10.0},{"ppm":95.5,"i":6.6},
{"ppm":95,"i":8.2},{"ppm":94.5,"i":5.5},{"ppm":94,"i":9.8},{"ppm":93.5,"i":6.3},{"ppm":93,"i":7.7},{"ppm":92.5,"i":4.2},{"ppm":92,"i":11.2},{"ppm":91.5,"i":6.9},{"ppm":91,"i":8.5},{"ppm":90.5,"i":5.0},
{"ppm":90,"i":9.4},{"ppm":89.5,"i":6.8},{"ppm":89,"i":4.5},{"ppm":88.5,"i":10.3},{"ppm":88,"i":7.1},{"ppm":87.5,"i":8.9},{"ppm":87,"i":5.7},{"ppm":86.5,"i":9.6},{"ppm":86,"i":6.2},{"ppm":85.5,"i":3.9},
{"ppm":85,"i":8.0},{"ppm":84.5,"i":10.5},{"ppm":84,"i":5.3},{"ppm":83.5,"i":7.6},{"ppm":83,"i":9.1},{"ppm":82.5,"i":4.7},{"ppm":82,"i":8.7},{"ppm":81.5,"i":6.4},{"ppm":81,"i":10.2},{"ppm":80.5,"i":5.8},
{"ppm":80,"i":7.3},{"ppm":79.5,"i":9.5},{"ppm":79,"i":4.3},{"ppm":78.5,"i":8.6},{"ppm":78,"i":6.1},{"ppm":77.5,"i":10.0},{"ppm":77,"i":7.8},{"ppm":76.5,"i":5.2},{"ppm":76,"i":9.2},{"ppm":75.5,"i":6.7},
{"ppm":75,"i":6.9},{"ppm":74.5,"i":8.8},{"ppm":74,"i":5.4},{"ppm":73.5,"i":10.1},{"ppm":73,"i":11.0},{"ppm":72.5,"i":10.4},{"ppm":72,"i":7.3},{"ppm":71.5,"i":5.2},{"ppm":71,"i":9.0},{"ppm":70.5,"i":6.5},
{"ppm":70,"i":4.6},{"ppm":69.5,"i":8.5},{"ppm":69,"i":6.3},{"ppm":68.5,"i":9.9},{"ppm":68,"i":5.7},{"ppm":67.5,"i":7.9},{"ppm":67,"i":3.6},{"ppm":66.5,"i":9.2},{"ppm":66,"i":6.8},{"ppm":65.5,"i":10.1},
{"ppm":65,"i":5.4},{"ppm":64.5,"i":8.2},{"ppm":64,"i":7.0},{"ppm":63.5,"i":4.4},{"ppm":63,"i":10.5},{"ppm":62.5,"i":6.5},{"ppm":62,"i":8.9},{"ppm":61.5,"i":5.9},{"ppm":61,"i":9.7},{"ppm":60.5,"i":6.1},
{"ppm":60,"i":8.6},{"ppm":59.5,"i":5.0},{"ppm":59,"i":9.4},{"ppm":58.5,"i":7.5},{"ppm":58,"i":4.8},{"ppm":57.5,"i":10.2},{"ppm":57,"i":6.7},{"ppm":56.5,"i":8.3},{"ppm":56,"i":5.5},{"ppm":55.5,"i":9.0},
{"ppm":55,"i":3.7},{"ppm":54.5,"i":7.7},{"ppm":54,"i":10.4},{"ppm":53.5,"i":6.0},{"ppm":53,"i":8.8},{"ppm":52.5,"i":5.2},{"ppm":52,"i":9.6},{"ppm":51.5,"i":7.1},{"ppm":51,"i":4.3},{"ppm":50.5,"i":8.5},
{"ppm":50,"i":10.1},{"ppm":49.5,"i":6.4},{"ppm":49,"i":7.9},{"ppm":48.5,"i":5.6},{"ppm":48,"i":9.3},{"ppm":47.5,"i":3.9},{"ppm":47,"i":8.2},{"ppm":46.5,"i":6.9},{"ppm":46,"i":10.7},{"ppm":45.5,"i":5.1},
{"ppm":45,"i":7.6},{"ppm":44.5,"i":9.5},{"ppm":44,"i":4.7},{"ppm":43.5,"i":8.0},{"ppm":43,"i":6.2},{"ppm":42.5,"i":10.3},{"ppm":42,"i":5.8},{"ppm":41.5,"i":8.7},{"ppm":41,"i":6.6},{"ppm":40.5,"i":4.1},
{"ppm":40,"i":9.8},{"ppm":39.5,"i":6.1},{"ppm":39,"i":10.6},{"ppm":38.5,"i":7.3},{"ppm":38,"i":5.0},{"ppm":37.5,"i":9.1},{"ppm":37,"i":7.8},{"ppm":36.5,"i":4.5},{"ppm":36,"i":10.0},{"ppm":35.5,"i":6.8},
{"ppm":35,"i":8.4},{"ppm":34.5,"i":5.5},{"ppm":34,"i":9.7},{"ppm":33.5,"i":6.3},{"ppm":33,"i":11.4},{"ppm":32.5,"i":7.0},{"ppm":32,"i":4.9},{"ppm":31.5,"i":8.6},{"ppm":31,"i":6.0},{"ppm":30.5,"i":9.9},
{"ppm":30,"i":5.3},{"ppm":29.5,"i":8.8},{"ppm":29,"i":6.6},{"ppm":28.5,"i":10.2},{"ppm":28,"i":4.2},{"ppm":27.5,"i":9.0},{"ppm":27,"i":7.4},{"ppm":26.5,"i":5.7},{"ppm":26,"i":10.8},{"ppm":25.5,"i":6.4},
{"ppm":25,"i":8.1},{"ppm":24.5,"i":3.8},{"ppm":24,"i":9.6},{"ppm":23.5,"i":7.0},{"ppm":23,"i":10.5},{"ppm":22.5,"i":5.9},{"ppm":22,"i":8.3},{"ppm":21.5,"i":6.2},{"ppm":21,"i":11.0},{"ppm":20.5,"i":7.5},
{"ppm":20,"i":5.1},{"ppm":19.5,"i":10.3},{"ppm":19,"i":7.7},{"ppm":18.5,"i":12.6},{"ppm":18,"i":6.5},{"ppm":17.5,"i":9.2},{"ppm":17,"i":8.0},{"ppm":16.5,"i":4.6},{"ppm":16,"i":10.7},{"ppm":15.5,"i":6.9},
{"ppm":15,"i":9.4},{"ppm":14.5,"i":7.1},{"ppm":14,"i":11.2},{"ppm":13.5,"i":5.8},{"ppm":13,"i":10.0},{"ppm":12.5,"i":8.4},{"ppm":12,"i":6.3},{"ppm":11.5,"i":11.8},{"ppm":11,"i":7.6},{"ppm":10.5,"i":9.5},
{"ppm":10,"i":12.3},{"ppm":9.5,"i":6.8},{"ppm":9,"i":10.6},{"ppm":8.5,"i":8.1},{"ppm":8,"i":11.5},{"ppm":7.5,"i":5.9},{"ppm":7,"i":9.7},{"ppm":6.5,"i":7.3},{"ppm":6,"i":10.9},{"ppm":5.5,"i":8.6},
{"ppm":5,"i":6.4},{"ppm":4.5,"i":10.2},{"ppm":4,"i":8.8},{"ppm":3.5,"i":11.1},{"ppm":3,"i":5.6},{"ppm":2.5,"i":9.9},{"ppm":2,"i":7.5},{"ppm":1.5,"i":10.6},{"ppm":1,"i":6.9},{"ppm":0.5,"i":9.3},
{"ppm":0,"i":8.1}
],
"pa": [{"ppm":104.4,"i":63},{"ppm":59.0,"i":93.5},{"ppm":57.9,"i":58},{"ppm":28.5,"i":85.5},{"ppm":24.0,"i":93},{"ppm":18.4,"i":90.7},{"ppm":10.1,"i":100},{"ppm":7.4,"i":65}],
"pb": [{"ppm":59.0,"i":90.7},{"ppm":28.3,"i":76.9},{"ppm":23.4,"i":80.6},{"ppm":18.2,"i":72},{"ppm":9.8,"i":79}]
},
"vconcat": [
{
  "width": 1167, "height": 248,
  "title": {"text": "(a)", "anchor": "start", "frame": "group", "dx": -46, "baseline": "top", "offset": -17},
  "layer": [
    {"data": {"name": "a"}, "mark": {"type": "line", "color": "#141414", "strokeWidth": 2},
     "encoding": {
       "x": {"field": "ppm", "type": "quantitative", "scale": {"domain": [-10.5, 200], "reverse": true, "nice": false, "zero": false},
             "axis": {"values": [200,180,160,140,120,100,80,60,40,20,0,-10], "labelExpr": "datum.value == -10 ? 'ppm' : datum.label", "title": "Chemical shift (δ)", "tickOpacity": {"condition": {"test": "datum.value == -10", "value": 0}, "value": 1}, "gridOpacity": {"condition": {"test": "datum.value == -10 || datum.value == 200", "value": 0}, "value": 0.8}}},
       "y": {"field": "i", "type": "quantitative", "scale": {"domain": [0, 100], "nice": false, "zero": false},
             "axis": {"title": "Intensity", "domain": false, "ticks": false, "labels": false, "grid": false, "titleX": -34, "titleY": 180, "titleAngle": 270, "titleAlign": "center", "titleBaseline": "middle", "titleFont": "Liberation Sans", "titleFontSize": 18, "titleFontWeight": "normal", "titleColor": "#222"}}
     }},
    {"data": {"name": "pa"}, "mark": {"type": "rule", "color": "#2a2a2a", "strokeWidth": 1.4},
     "encoding": {"x": {"field": "ppm", "type": "quantitative"}, "y": {"field": "i", "type": "quantitative"}, "y2": {"datum": 28}}},
    {"data": {"values": [{}]}, "mark": {"type": "rule", "color": "#d1177e", "strokeWidth": 3},
     "encoding": {"x": {"datum": 205.6, "type": "quantitative"}, "y": {"datum": 44.4, "type": "quantitative"}, "y2": {"datum": 75.5}}},
    {"data": {"values": [{}]}, "mark": {"type": "point", "shape": "triangle-up", "filled": true, "color": "#d1177e", "opacity": 1, "size": 70},
     "encoding": {"x": {"datum": 205.6, "type": "quantitative"}, "y": {"datum": 76.8, "type": "quantitative"}}}
  ]
},
{
  "width": 1167, "height": 248,
  "title": {"text": "(b)", "anchor": "start", "frame": "group", "dx": -46, "baseline": "top", "offset": -17},
  "layer": [
    {"data": {"name": "b"}, "mark": {"type": "line", "color": "#141414", "strokeWidth": 2.1},
     "encoding": {
       "x": {"field": "ppm", "type": "quantitative", "scale": {"domain": [-10.5, 200], "reverse": true, "nice": false, "zero": false},
             "axis": {"values": [200,180,160,140,120,100,80,60,40,20,0,-10], "labelExpr": "datum.value == -10 ? 'ppm' : datum.label", "title": "Chemical shift (δ)", "tickOpacity": {"condition": {"test": "datum.value == -10", "value": 0}, "value": 1}, "gridOpacity": {"condition": {"test": "datum.value == -10 || datum.value == 200", "value": 0}, "value": 0.8}}},
       "y": {"field": "i", "type": "quantitative", "scale": {"domain": [0, 100], "nice": false, "zero": false},
             "axis": {"title": "Intensity", "domain": false, "ticks": false, "labels": false, "grid": false, "titleX": -34, "titleY": 178, "titleAngle": 270, "titleAlign": "center", "titleBaseline": "middle", "titleFont": "Liberation Sans", "titleFontSize": 18, "titleFontWeight": "normal", "titleColor": "#222"}}
     }},
    {"data": {"name": "pb"}, "mark": {"type": "rule", "color": "#2a2a2a", "strokeWidth": 1.6},
     "encoding": {"x": {"field": "ppm", "type": "quantitative"}, "y": {"field": "i", "type": "quantitative"}, "y2": {"datum": 7}}},
    {"data": {"values": [{}]}, "mark": {"type": "rule", "color": "#d1177e", "strokeWidth": 3},
     "encoding": {"x": {"datum": 205.6, "type": "quantitative"}, "y": {"datum": 44.8, "type": "quantitative"}, "y2": {"datum": 75}}},
    {"data": {"values": [{}]}, "mark": {"type": "point", "shape": "triangle-up", "filled": true, "color": "#d1177e", "opacity": 1, "size": 70},
     "encoding": {"x": {"datum": 205.6, "type": "quantitative"}, "y": {"datum": 76.4, "type": "quantitative"}}}
  ]
}
]
}
